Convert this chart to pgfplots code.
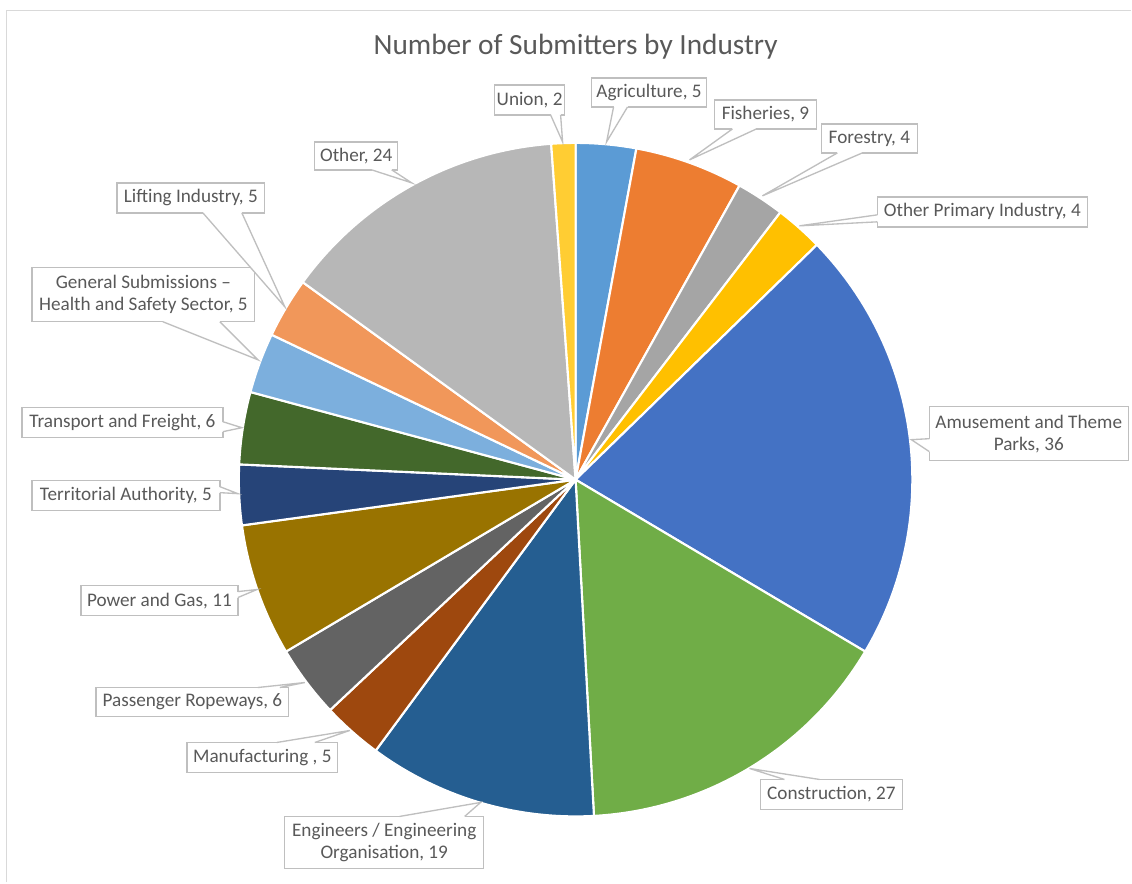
\documentclass[border=0pt]{standalone}
\usepackage{pgfplots}
\pgfplotsset{compat=1.18}
\usepackage{fontspec}
\setmainfont{Carlito}
\definecolor{txt}{HTML}{595959}
\definecolor{bord}{HTML}{BFBFBF}
\definecolor{frame}{HTML}{D9D9D9}
\definecolor{c1}{HTML}{5B9BD5}
\definecolor{c2}{HTML}{ED7D31}
\definecolor{c3}{HTML}{A5A5A5}
\definecolor{c4}{HTML}{FFC000}
\definecolor{c5}{HTML}{4472C4}
\definecolor{c6}{HTML}{70AD47}
\definecolor{c7}{HTML}{255E91}
\definecolor{c8}{HTML}{9E480E}
\definecolor{c9}{HTML}{636363}
\definecolor{c10}{HTML}{997300}
\definecolor{c11}{HTML}{264478}
\definecolor{c12}{HTML}{43682B}
\definecolor{c13}{HTML}{7CAFDD}
\definecolor{c14}{HTML}{F1975A}
\definecolor{c15}{HTML}{B7B7B7}
\definecolor{c16}{HTML}{FFCD33}
\def\total{173}
\def\cum{0}
\newcommand\slice[2]{%
  \pgfmathsetmacro\sa{\cum/\total*360}%
  \pgfmathsetmacro\newcum{\cum+#1}%
  \pgfmathsetmacro\sb{\newcum/\total*360}%
  \xdef\cum{\newcum}%
  \edef\doslice{\noexpand\addplot[fill=#2, draw=white, line width=1.6pt, line join=round, domain=\sa:\sb, samples=80, variable=\noexpand\t] ({576+337*sin(\noexpand\t)}, {480-337*cos(\noexpand\t)}) -- (axis cs:576,480) -- cycle;}%
  \doslice}
% box: left,top / right,bottom ; base1 ; base2 ; tip ; text
\newcommand\callout[6]{%
  \draw[bord, line width=1pt, fill=white] (axis cs:#1) rectangle (axis cs:#2);
  \fill[white] (axis cs:#3) -- (axis cs:#5) -- (axis cs:#4) -- cycle;
  \draw[white, line width=1.5pt] (axis cs:#3) -- (axis cs:#4);
  \draw[bord, line width=1pt, line join=miter] (axis cs:#3) -- (axis cs:#5) -- (axis cs:#4);
  \path (axis cs:#1) -- (axis cs:#2) node[midway, text=txt, align=center, font=\fontsize{14.4}{16.5}\selectfont, inner sep=0pt] {#6};
}
\begin{document}
\begin{tikzpicture}
\begin{axis}[x=0.75pt, y=0.75pt, xmin=0, xmax=1132, ymin=0, ymax=883, y dir=reverse,
  hide axis, scale only axis, clip=false]
\path (axis cs:0,0) rectangle (axis cs:1132,883);
\draw[frame, line width=1.2pt] (axis cs:6.5,883) -- (axis cs:6.5,10.5) -- (axis cs:1132,10.5);
\node[text=txt, font=\fontsize{22}{26}\selectfont] at (axis cs:576,47) {Number of Submitters by Industry};
\slice{5}{c1}   % Agriculture
\slice{9}{c2}   % Fisheries
\slice{4}{c3}   % Forestry
\slice{4}{c4}   % Other Primary Industry
\slice{36}{c5}  % Amusement and Theme Parks
\slice{27}{c6}  % Construction
\slice{19}{c7}  % Engineers / Engineering Organisation
\slice{5}{c8}   % Manufacturing
\slice{6}{c9}   % Passenger Ropeways
\slice{11}{c10} % Power and Gas
\slice{5}{c11}  % Territorial Authority
\slice{6}{c12}  % Transport and Freight
\slice{5}{c13}  % General Submissions
\slice{5}{c14}  % Lifting Industry
\slice{24}{c15} % Other
\slice{2}{c16}  % Union
\callout{495,85}{565,115}{551,115}{561,115}{563,142}{Union, 2}
\callout{592,78}{707,107}{614,107}{628,107}{607,142}{Agriculture, 5}
\callout{715,100}{817,129}{733,129}{757,129}{690,160}{Fisheries, 9}
\callout{822,124}{918,153}{838,153}{863,153}{763,196}{Forestry, 4}
\callout{878,197}{1088,227}{878,215}{878,222}{800,226}{Other Primary Industry, 4}
\callout{930,407}{1129,461}{930,439}{930,452}{912,440}{Amusement and Theme\\Parks, 36}
\callout{761,780}{903,810}{785,780}{820,780}{750,769}{Construction, 27}
\callout{285,817}{484,869}{400,817}{465,817}{481,803}{Engineers / Engineering\\Organisation, 19}
\callout{187,743}{338,773}{277,743}{315,743}{350,731}{Manufacturing , 5}
\callout{96,688}{289,717}{258,688}{280,688}{305,683}{Passenger Ropeways, 6}
\callout{81,586}{238,616}{238,592}{238,598}{257,590}{Power and Gas, 11}
\callout{32,481}{220,511}{220,487}{220,493}{238,494}{Territorial Authority, 5}
\callout{22,408}{223,438}{223,422}{223,432}{242,428}{Transport and Freight, 6}
\callout{32,268}{255,322}{163,322}{220,322}{258,360}{General Submissions –\\Health and Safety Sector, 5}
\callout{117,183}{265,213}{203,213}{242,213}{285,307}{Lifting Industry, 5}
\callout{315,142}{398,170}{372,170}{392,170}{412,183}{Other, 24}
\end{axis}
\end{tikzpicture}
\end{document}
